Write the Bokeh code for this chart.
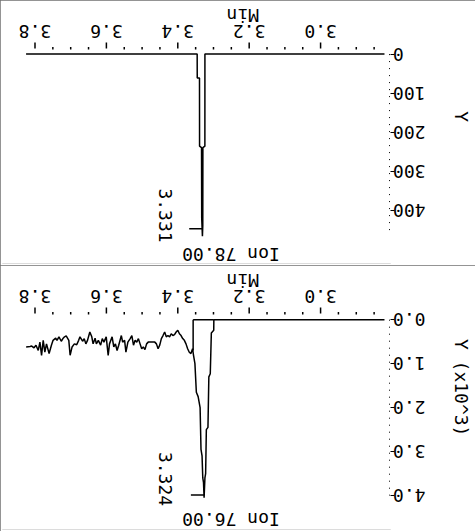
import math
from bokeh.plotting import figure
from bokeh.models import Range1d, FixedTicker, PrintfTickFormatter
from bokeh.layouts import column
from bokeh.embed import file_html
from bokeh.resources import INLINE
from bokeh.core.properties import value

FONT = "DejaVu Sans Mono"
FS = "18px"
CHAR_W = 0.602 * 18          # monospace advance width, px
NB = "\u00a0"

# ---- data ----
x_major = [3.0, 3.2, 3.4, 3.6, 3.8]
x_minor = [2.85, 2.9, 2.95, 3.05, 3.1, 3.15, 3.25, 3.3, 3.35,
           3.45, 3.5, 3.55, 3.65, 3.7, 3.75]
x_labels = ["3.0", "3.2", "3.4", "3.6", "3.8"]
y78_ticks = [0, 100, 200, 300, 400]
y76_ticks = [0.0, 1.0, 2.0, 3.0, 4.0]

# Ion 78.00 trace (time in min, abundance)
t78 = [2.821, 3.3240, 3.3241, 3.3297, 3.3300, 3.3310, 3.3330, 3.3335,
       3.3390, 3.3392, 3.3455, 3.3457, 3.825]
v78 = [0, 0, 236, 240, 440, 467, 420, 240, 236, 61, 61, 0, 0]

# Ion 76.00 trace (time in min, abundance x10^3)
t76 = [2.821, 3.2990, 3.2993, 3.3060, 3.3090, 3.3130, 3.3155, 3.3200,
       3.3220, 3.3240, 3.3263, 3.3280, 3.3300, 3.3320, 3.3350, 3.3375,
       3.3430, 3.3480, 3.3520, 3.3559,
       3.3586, 3.3632, 3.3678, 3.3724, 3.3770, 3.3816, 3.3862, 3.3908,
       3.3954, 3.4000, 3.4046, 3.4092, 3.4138, 3.4184, 3.4230, 3.4276,
       3.4322, 3.4368, 3.4414, 3.4460, 3.4506, 3.4552, 3.4598, 3.4644,
       3.4828, 3.4874, 3.4920, 3.4966, 3.5011, 3.5057, 3.5103, 3.5149,
       3.5195, 3.5241, 3.5287, 3.5333, 3.5398, 3.5453, 3.5490, 3.5545,
       3.5581, 3.5655, 3.5701, 3.5747, 3.5793, 3.5840, 3.5913, 3.5950,
       3.6005, 3.6069, 3.6115, 3.6161, 3.6226, 3.6281, 3.6317, 3.6372,
       3.6409, 3.6464, 3.6529, 3.6575, 3.6621, 3.6667, 3.6740, 3.6777,
       3.6832, 3.6897, 3.6961, 3.7016, 3.7053, 3.7126, 3.7172, 3.7218,
       3.7264, 3.7329, 3.7384, 3.7421, 3.7494, 3.7540, 3.7605, 3.7678,
       3.7724, 3.7770, 3.7816, 3.7862, 3.7909, 3.7972, 3.8028, 3.8092,
       3.8138, 3.8248]
v76 = [0, 0, 0.24, 0.30, 1.23, 1.30, 2.45, 2.50,
       3.50, 3.60, 4.05, 3.70, 3.60, 3.10, 2.95, 2.00,
       1.75, 1.65, 1.00, 0.81,
       0.66, 0.77, 0.74, 0.66, 0.55, 0.47, 0.43, 0.36,
       0.32, 0.24, 0.28, 0.34, 0.36, 0.32, 0.39, 0.36,
       0.39, 0.28, 0.36, 0.43, 0.58, 0.66, 0.55, 0.51,
       0.51, 0.55, 0.68, 0.62, 0.66, 0.55, 0.43, 0.51,
       0.47, 0.58, 0.36, 0.43, 0.51, 0.74, 0.47, 0.51,
       0.36, 0.58, 0.70, 0.55, 0.62, 0.39, 0.55, 0.81,
       0.39, 0.51, 0.43, 0.58, 0.47, 0.55, 0.42, 0.55,
       0.39, 0.28, 0.47, 0.55, 0.43, 0.49, 0.39, 0.47,
       0.57, 0.55, 0.62, 0.81, 0.47, 0.37, 0.39, 0.43,
       0.49, 0.39, 0.47, 0.42, 0.47, 0.58, 0.77, 0.55,
       0.74, 0.47, 0.81, 0.51, 0.70, 0.58, 0.64, 0.60,
       0.61, 0.62]
assert len(t76) == len(v76)

apex78_t, apex78_v, apex78_text = 3.331, 448, "3.331"
apex76_t, apex76_v, apex76_text = 3.3263, 3.99, "3.324"
base76_t = [3.2990, 3.357]     # integration baseline start / end
base76_end_v = 0.70
ion78_text = "Ion 78.00"
ion76_text = "Ion 76.00"
x_title = "Min"
y78_title = "Y"
y76_title = "Y (x10^3)"

# ---- layout constants (screen px inside each panel) ----
W = 475
FR_L, FR_R, FR_T = 2, 396, 2
PX_PER_MIN = 362.5
X0_PX = 325                     # screen x of 3.0 min


def tx(px):
    return 3.0 + (X0_PX - px) / PX_PER_MIN


def both(d):
    out = {}
    for k, v in d.items():
        out[k] = v
        out[str(k)] = v
    return out


def text_style(ax):
    ax.major_label_text_font = FONT
    ax.major_label_text_font_size = FS
    ax.major_label_text_color = "black"
    ax.axis_label_text_font = FONT
    ax.axis_label_text_font_size = FS
    ax.axis_label_text_color = "black"
    ax.axis_label_text_font_style = "normal"


def make_panel(t, v, h, y0_px, ppu, yticks, yfmt, yover, ylabel, ylabel_pad,
               ion_text, apex_t, apex_v, apex_text, apex_lbl_cy):
    fr_b = h - 2

    def vy(py):
        return (py - y0_px) / ppu

    p = figure(width=W, height=h, output_backend="svg", toolbar_location=None,
               x_range=Range1d(tx(FR_L), tx(FR_R)), y_range=Range1d(vy(fr_b), vy(FR_T)),
               x_axis_location=None, y_axis_location="right",
               min_border_left=FR_L, min_border_right=W - FR_R, min_border_top=FR_T,
               min_border_bottom=h - fr_b, background_fill_color="white",
               border_fill_color="white", outline_line_color=None)
    p.grid.visible = False
    p.styles = {"outline": "2px solid #707070", "outline-offset": "-2px"}

    # ---- time axis (upside-down, drawn on top) ----
    p.segment(x0=x_major, y0=[vy(42)] * len(x_major), x1=x_major, y1=[vy(48)] * len(x_major),
              line_color="black", line_width=1.5)
    p.segment(x0=x_minor, y0=[vy(46.5)] * len(x_minor), x1=x_minor,
              y1=[vy(49)] * len(x_minor), line_color="black", line_width=1.5)
    p.text(x=x_major, y=[vy(31)] * len(x_major), text=x_labels, angle=math.pi,
           text_align="center", text_baseline="middle", text_font=value(FONT),
           text_font_size=value(FS), text_color="black")
    p.text(x=[tx(246)], y=[vy(15)], text=[x_title], angle=math.pi,
           text_align="center", text_baseline="middle", text_font=value(FONT),
           text_font_size=value(FS), text_color="black")

    # ---- abundance axis (right) ----
    ya = p.yaxis[0]
    ya.ticker = FixedTicker(ticks=yticks, minor_ticks=[])
    if yfmt:
        ya.formatter = PrintfTickFormatter(format=yfmt)
    if yover:
        ya.major_label_overrides = both(yover)
    ya.axis_line_color = None
    ya.major_tick_in = 0
    ya.major_tick_out = 4
    ya.major_tick_line_color = "black"
    ya.major_label_orientation = math.pi
    ya.major_label_standoff = int(round(3 * CHAR_W - 1.5))
    ya.axis_label = ylabel + NB * ylabel_pad
    ya.axis_label_standoff = -10
    text_style(ya)

    # dotted y axis line
    xa_t = tx(395)
    p.segment(x0=[xa_t], y0=[0], x1=[xa_t], y1=[vy(230)],
              line_color="black", line_width=1, line_dash="1 6")

    # ---- trace ----
    p.line(t, v, line_color="black", line_width=1.5)
    p.segment(x0=[apex_t + 0.037], y0=[apex_v], x1=[apex_t], y1=[apex_v],
              line_color="black", line_width=1.5)
    p.text(x=[tx(168)], y=[vy(apex_lbl_cy)], text=[apex_text], angle=-math.pi / 2,
           text_align="center", text_baseline="middle", text_font=value(FONT),
           text_font_size=value(FS), text_color="black")
    p.text(x=[tx(234)], y=[vy(253.5)], text=[ion_text], angle=math.pi,
           text_align="center", text_baseline="middle", text_font=value(FONT),
           text_font_size=value(FS), text_color="black")
    return p


p1 = make_panel(t78, v78, 265, 53.6, 0.39, y78_ticks, None,
                {0: NB + NB + "0"}, y78_title, 3, ion78_text,
                apex78_t, apex78_v, apex78_text, 215)
p2 = make_panel(t76, v76, 266, 54.2, 43.95, y76_ticks, "%.1f", None, y76_title, 2,
                ion76_text, apex76_t, apex76_v, apex76_text, 213.5)
p2.segment(x0=[base76_t[0], base76_t[1]], y0=[0, 0], x1=[base76_t[1], base76_t[1]],
           y1=[0, base76_end_v], line_color="black", line_width=1.5)

layout = column(p1, p2, spacing=0)
open("out.html", "w").write(file_html(layout, INLINE))
